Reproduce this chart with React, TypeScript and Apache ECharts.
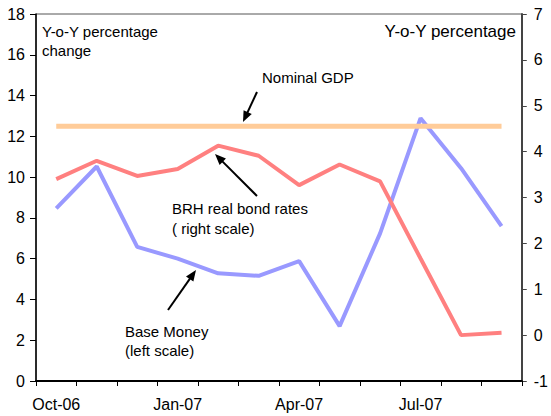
import React, { useEffect, useRef } from "react";
import * as echarts from "echarts";

const months = ["Oct-06", "Nov-06", "Dec-06", "Jan-07", "Feb-07", "Mar-07", "Apr-07", "May-07", "Jun-07", "Jul-07", "Aug-07", "Sep-07"];
const baseMoney = [8.47, 10.52, 6.58, 6.0, 5.28, 5.16, 5.88, 2.69, 7.24, 12.89, 10.44, 7.6];
const brhRealBondRates = [3.4, 3.8, 3.47, 3.62, 4.13, 3.91, 3.27, 3.72, 3.35, 1.67, 0.0, 0.05];
const nominalGdp = [12.5, 12.5, 12.5, 12.5, 12.5, 12.5, 12.5, 12.5, 12.5, 12.5, 12.5, 12.5];

const FONT = "Liberation Sans, Arial, sans-serif";

function arrow(x1: number, y1: number, x2: number, y2: number) {
  const dx = x2 - x1;
  const dy = y2 - y1;
  const len = Math.sqrt(dx * dx + dy * dy);
  const ux = dx / len;
  const uy = dy / len;
  const headLen = 11;
  const headHalf = 4.5;
  const bx = x2 - ux * headLen;
  const by = y2 - uy * headLen;
  const px = -uy;
  const py = ux;
  return {
    type: "group",
    children: [
      {
        type: "line",
        shape: { x1, y1, x2: bx + ux * 2, y2: by + uy * 2 },
        style: { stroke: "#000", lineWidth: 2 },
      },
      {
        type: "polygon",
        shape: {
          points: [
            [x2, y2],
            [bx + px * headHalf, by + py * headHalf],
            [bx - px * headHalf, by - py * headHalf],
          ],
        },
        style: { fill: "#000" },
      },
    ],
  };
}

function label(text: string, x: number, y: number, size = 15, align = "left") {
  return {
    type: "text",
    x,
    y,
    style: {
      text,
      font: `${size}px ${FONT}`,
      fill: "#000",
      textAlign: align,
      textVerticalAlign: "middle",
    },
  };
}

export default function App() {
  const ref = useRef<HTMLDivElement>(null);
  useEffect(() => {
    if (!ref.current) return;
    const chart = echarts.init(ref.current, undefined, { renderer: "svg" });
    chart.setOption({
      animation: false,
      backgroundColor: "#fff",
      textStyle: { fontFamily: FONT },
      grid: {
        left: 36,
        right: 27,
        top: 14,
        bottom: 35,
        show: true,
        borderColor: "#555",
        borderWidth: 1,
        backgroundColor: "transparent",
      },
      xAxis: {
        type: "category",
        data: months,
        boundaryGap: true,
        axisLine: { lineStyle: { color: "#000", width: 2 } },
        axisTick: { show: true, interval: 0, length: 5, lineStyle: { color: "#000" } },
        axisLabel: { interval: 2, color: "#000", fontSize: 16, margin: 15, fontFamily: FONT },
        splitLine: { show: false },
      },
      yAxis: [
        {
          type: "value",
          min: 0,
          max: 18,
          interval: 2,
          position: "left",
          axisLine: { show: true, lineStyle: { color: "#000", width: 1.5 } },
          axisTick: { show: true, length: 6, inside: false, lineStyle: { color: "#000" } },
          axisLabel: { color: "#000", fontSize: 16, margin: 11, fontFamily: FONT },
          splitLine: { show: false },
        },
        {
          type: "value",
          min: -1,
          max: 7,
          interval: 1,
          position: "right",
          axisLine: { show: true, lineStyle: { color: "#444", width: 2 } },
          axisTick: { show: true, length: 5, lineStyle: { color: "#444" } },
          axisLabel: { color: "#000", fontSize: 16, margin: 12, fontFamily: FONT },
          splitLine: { show: false },
        },
      ],
      series: [
        {
          name: "Base Money",
          type: "line",
          yAxisIndex: 0,
          data: baseMoney,
          symbol: "none",
          lineStyle: { color: "#9999FF", width: 4 },
          z: 2,
        },
        {
          name: "BRH real bond rates",
          type: "line",
          yAxisIndex: 1,
          data: brhRealBondRates,
          symbol: "none",
          lineStyle: { color: "#FF8080", width: 4 },
          z: 3,
        },
        {
          name: "Nominal GDP",
          type: "line",
          yAxisIndex: 0,
          data: nominalGdp,
          symbol: "none",
          lineStyle: { color: "#FFCC99", width: 5 },
          z: 4,
        },
      ],
      graphic: [
        label("Y-o-Y percentage", 42, 31, 15),
        label("change", 42, 50, 15),
        label("Y-o-Y percentage", 516, 31, 17, "right"),
        label("Nominal GDP", 262, 77, 15),
        label("BRH real bond rates", 172, 208, 15),
        label("( right scale)", 172, 228, 15),
        label("Base Money", 125, 331, 15),
        label("(left scale)", 125, 350, 15),
        arrow(257, 92, 243, 122),
        arrow(257, 196, 215, 154),
        arrow(168, 310, 196, 270),
      ],
    });
    return () => chart.dispose();
  }, []);
  return (
    <div
      ref={ref}
      style={{ position: "fixed", left: 0, top: 0, width: 551, height: 416 }}
    />
  );
}
